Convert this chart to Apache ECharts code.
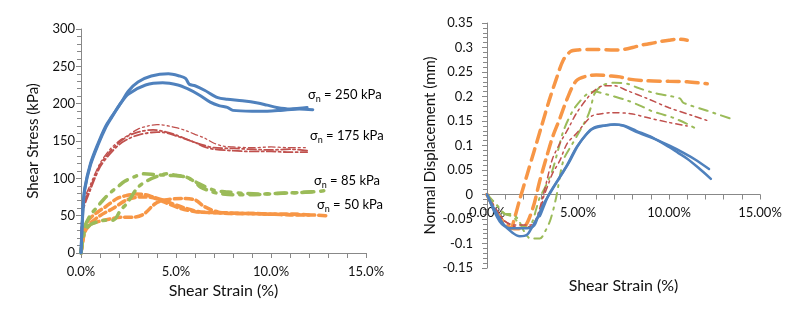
<!DOCTYPE html>
<html>
<head>
<meta charset="UTF-8">
<title>Shear stress and normal displacement</title>
<script src="https://cdn.jsdelivr.net/npm/echarts@6/dist/echarts.min.js"></script>
<style>
	body{margin:0;background:#fff;}
	#main{width:794px;height:321px;}
</style>
</head>
<body>
<div id="main"></div>
<script>
// left chart: shear stress (kPa) vs shear strain (%)
var s250a_x = [0,0.1,0.2,0.5,0.9,1.3,1.6,2.1,2.5,3.0,3.7,4.6,5.2,5.5,5.7,6.0,6.5,7.2,7.7,8.5,9.3,9.8,10.3,11.0,11.5,11.9];
var s250a_y = [0,60,87,120,147,170,182,201,217,229,237,240,237,234,226,224,218,208,206,204,201,198,195,193,194,195];
var s250b_x = [0,0.1,0.2,0.5,0.9,1.3,1.6,2.1,2.5,3.4,4.3,5.1,5.6,6.2,6.8,7.3,7.7,8.0,9.0,9.8,10.5,11.5,12.2];
var s250b_y = [0,55,85,118,145,168,181,201,213,225,228,225,220,212,202,197,195,191,190,190,191,193,192];
var s175a_x = [0,0.1,0.5,1,1.5,2,2.5,3,3.5,4,5,5.5,6,6.5,7,7.5,8,9,10,11,11.9];
var s175a_y = [0,65,92,120,138,150,158,166,170,172,168,164,159,154,147,143,142,141,142,141,141];
var s175b_x = [0,0.1,0.5,1,1.5,2,2.5,3,3.8,4.5,5,5.5,6,6.5,7,8,9,10,11,11.9];
var s175b_y = [0,60,88,118,135,148,157,162,165,162,158,153,148,144,141,140,139,138,139,137];
var s175c_x = [0,0.1,0.5,1,1.5,2,2.5,3,4,4.5,5,6,6.5,7,8,9,10,11,11.9];
var s175c_y = [0,55,85,115,132,145,153,158,162,161,157,148,142,139,137,136,136,135,135];
var s85a_x = [0,0.2,0.5,0.8,1.2,1.6,1.9,2.3,2.8,3.3,3.9,4.6,5.5,6.2,7.0,7.6,8.5,9.5,10.5,11.5,12.2];
var s85a_y = [0,35,51,60,72,82,88,96,102,106,105,104,102,93,84,82,80,79,80,81,82];
var s85b_x = [0,0.2,0.5,0.9,1.3,1.7,2.1,2.4,3.0,3.5,4.05,4.5,5,5.6,6.0,6.3,6.8,7.2,8,8.9,9.8,10.6,11.5,12.3,13];
var s85b_y = [0,30,38,42,44,44,58,66,88,97,103,106,104,101,95,88,83,80,78,78,79,80,81,82,84];
var s50a_x = [0,0.1,0.2,0.5,1,1.3,1.9,2.4,2.9,3.4,3.8,4.3,4.6,5.5,6.3,7.4,8.5,10,11,12,12.9];
var s50a_y = [0,20,35,47,57,62,73,77,79,78,75,71,68,60,55,54,53,52,51,51,50];
var s50b_x = [0,0.2,0.5,1,1.7,2.4,3.1,3.8,4.4,5.2,6.1,7,8,9,10,11,11.5];
var s50b_y = [0,30,40,50,60,71,75,74,68,60,55,54,53,53,52,52,52];
var s50c_x = [0,0.2,0.5,0.9,1.6,2.2,2.8,3.3,3.9,4.4,5.3,6,6.5,7.2,8,9,10,11,12];
var s50c_y = [0,28,38,42,46,48,48,52,66,71,73,71,62,55,53,53,52,52,51];

// right chart: normal displacement (mm) vs shear strain (%)
var d250a_x = [0,0.35,0.9,1.4,1.8,2.2,2.5,2.8,3.1,3.5,4,4.5,5,5.5,5.9,6.5,7.0,7.5,8.2,9.1,10,10.5,11,11.6,12.3];
var d250a_y = [0,-0.026,-0.06,-0.078,-0.085,-0.082,-0.065,-0.045,-0.02,0.005,0.035,0.065,0.1,0.125,0.137,0.141,0.143,0.141,0.13,0.116,0.097,0.085,0.073,0.055,0.032];
var d250b_x = [0,0.7,1.26,2.2,2.6,2.8,2.9,3.1,3.4,3.9,4.4,4.9,5.4,5.8,6.5,7,7.5,8.2,9.1,10,10.8,11.5,12.2];
var d250b_y = [0,-0.055,-0.069,-0.069,-0.063,-0.046,-0.044,-0.026,0,0.03,0.06,0.095,0.12,0.134,0.141,0.143,0.14,0.128,0.115,0.1,0.085,0.07,0.052];
var d175a_x = [0,0.5,1,1.5,2,2.5,2.8,3.1,3.3,3.6,4,4.5,4.9,5.5,5.9,6.4,7,7.7,8.8,10,11.3,12.1];
var d175a_y = [0,-0.035,-0.055,-0.065,-0.068,-0.062,-0.04,0,0.03,0.073,0.104,0.137,0.165,0.196,0.212,0.222,0.222,0.212,0.196,0.177,0.161,0.151];
var d175b_x = [0,0.5,1,1.5,2.4,2.7,2.9,3.1,3.3,3.6,4,4.4,4.9,5.5,5.8,6.3,6.8,7.9,8.8,10,11];
var d175b_y = [0,-0.03,-0.055,-0.062,-0.062,-0.053,-0.04,-0.006,0.014,0.043,0.069,0.104,0.124,0.151,0.161,0.165,0.167,0.165,0.157,0.147,0.14];
var d85a_x = [0,0.5,1,1.4,1.8,2.2,2.5,2.7,2.9,3.2,3.6,3.9,4.2,4.7,5.1,5.5,5.9,6.5,7,7.7,8.5,9,9.5,10.2,11,11.5];
var d85a_y = [0,-0.02,-0.04,-0.045,-0.06,-0.068,-0.055,-0.03,-0.006,0.015,0.05,0.09,0.13,0.17,0.19,0.205,0.21,0.205,0.2,0.192,0.18,0.171,0.165,0.157,0.144,0.134];
var d85b_x = [0,0.5,1,1.3,1.7,2,2.4,2.9,3.2,3.5,3.8,4.2,4.7,5.1,5.5,5.7,5.9,6.3,7,7.7,8.2,9.1,9.9,10.6,10.8,12.1,13.6];
var d85b_y = [0,-0.02,-0.04,-0.04,-0.05,-0.073,-0.09,-0.09,-0.075,-0.05,-0.006,0.07,0.104,0.13,0.157,0.177,0.205,0.222,0.228,0.226,0.219,0.208,0.202,0.196,0.187,0.171,0.152];
var d50a_x = [0,0.5,1,1.3,1.5,1.8,2.2,2.6,3.0,3.4,3.8,4.2,4.6,5,6,7,7.5,8,8.5,9,9.5,10,10.5,11];
var d50a_y = [0,-0.035,-0.06,-0.07,-0.05,-0.01,0.04,0.09,0.14,0.19,0.235,0.275,0.292,0.295,0.296,0.295,0.296,0.3,0.305,0.308,0.312,0.315,0.317,0.315];
var d50b_x = [0,0.5,1,1.5,2,2.5,2.9,3.3,3.6,4,4.4,4.9,5.5,6,6.8,7.3,7.7,8.8,10,11,12.1];
var d50b_y = [0,-0.035,-0.06,-0.07,-0.068,-0.03,0.028,0.08,0.117,0.155,0.195,0.232,0.242,0.244,0.242,0.24,0.236,0.232,0.231,0.23,0.226];

var BLUE = '#4F81BD', RED = '#C0504D', GREEN = '#9BBB59', ORANGE = '#F79646';
var FONT = 'Lato';

function pts(xs, ys){
	var out = [];
	for (var i=0; i<xs.length; i++){
		out.push([xs[i], ys[i]]);
	}
	return out;
}
function line(idx, xs, ys, color, width, dash){
	return {
		type:'line',
		xAxisIndex:idx,
		yAxisIndex:idx,
		data:pts(xs, ys),
		symbol:'none',
		smooth:0.3,
		silent:true,
		lineStyle:{color:color, width:width, type:dash || 'solid', cap:'round'}
	};
}
var axisGrey = '#888888';
function axisBase(){
	return {
		type:'value',
		axisLine:{show:true, onZero:false, lineStyle:{color:axisGrey, width:1}},
		axisTick:{show:true, length:5, lineStyle:{color:axisGrey}},
		minorTick:{show:true, splitNumber:5, length:4, lineStyle:{color:axisGrey}},
		splitLine:{show:false},
		nameTextStyle:{fontFamily:FONT, fontSize:16, color:'#111'},
		axisLabel:{fontFamily:FONT, fontSize:13, color:'#111', hideOverlap:false}
	};
}

var xL = axisBase();
xL.gridIndex = 0; xL.min = 0; xL.max = 15; xL.interval = 5;
xL.axisLabel.formatter = function(v){ return v.toFixed(1) + '%'; };
xL.axisLabel.margin = 12;
xL.minorTick.length = 5;
xL.name = 'Shear Strain (%)'; xL.nameLocation = 'middle'; xL.nameGap = 29;

var yL = axisBase();
yL.gridIndex = 0; yL.min = 0; yL.max = 300; yL.interval = 50;
yL.axisLabel.margin = 6;
yL.name = 'Shear Stress (kPa)'; yL.nameLocation = 'middle'; yL.nameGap = 40;
yL.nameTextStyle.fontSize = 15;

var rightH = 245, rightMin = -0.15, rightMax = 0.35;

// x axis of the right chart is drawn on the zero line (moved up from the bottom)
var xR = axisBase();
xR.gridIndex = 1; xR.min = 0; xR.max = 15; xR.interval = 5;
xR.position = 'bottom';
xR.offset = -rightH * (0 - rightMin) / (rightMax - rightMin);
xR.axisLabel.formatter = function(v){ return v.toFixed(2) + '%'; };
xR.axisLabel.margin = 12;
xR.minorTick.length = 5;
xR.name = 'Shear Strain (%)'; xR.nameLocation = 'middle'; xR.nameGap = 83;

var yR = axisBase();
yR.gridIndex = 1; yR.min = rightMin; yR.max = rightMax; yR.interval = 0.05;
yR.axisLabel.formatter = function(v){ return String(parseFloat(v.toFixed(2))); };
yR.axisLabel.margin = 14;
yR.name = 'Normal Displacement (mm)'; yR.nameLocation = 'middle'; yR.nameGap = 49;
yR.nameTextStyle.fontSize = 15;

var rich = {
	s:{fontFamily:FONT, fontSize:13, lineHeight:15, verticalAlign:'top', color:'#111'},
	n:{fontFamily:FONT, fontSize:9, lineHeight:9, padding:[7,0,0,0], verticalAlign:'top', color:'#111'},
	r:{fontFamily:FONT, fontSize:13, lineHeight:15, verticalAlign:'top', color:'#111'}
};
function note(x, y, txt){
	return {
		type:'text', left:x, top:y, silent:true,
		style:{text:'{s|σ}{n|n}{r| = ' + txt + '}', rich:rich}
	};
}

var chart = echarts.init(document.getElementById('main'), null, {renderer:'canvas'});
var option = {
	animation:false,
	backgroundColor:'#fff',
	grid:[
		{left:81, top:29, width:285, height:224, outerBoundsMode:'none', containLabel:false},
		{left:487, top:23, width:273, height:rightH, outerBoundsMode:'none', containLabel:false}
	],
	xAxis:[xL, xR],
	yAxis:[yL, yR],
	series:[
		line(0, s50a_x, s50a_y, ORANGE, 3.5, [7,4]),
		line(0, s50b_x, s50b_y, ORANGE, 3.5, [7,4]),
		line(0, s50c_x, s50c_y, ORANGE, 3.5, [7,4]),
		line(0, s85a_x, s85a_y, GREEN, 3.5, [10,7,3,7]),
		line(0, s85b_x, s85b_y, GREEN, 3.5, [10,7,3,7]),
		line(0, s175a_x, s175a_y, RED, 1.3, [7,3,2,3,2,3]),
		line(0, s175b_x, s175b_y, RED, 1.8, [9,3,2,3]),
		line(0, s175c_x, s175c_y, RED, 1.8, [9,3,2,3]),
		line(0, s250a_x, s250a_y, BLUE, 3),
		line(0, s250b_x, s250b_y, BLUE, 3),
		line(1, d50a_x, d50a_y, ORANGE, 3.5, [12,7]),
		line(1, d50b_x, d50b_y, ORANGE, 3.5, [12,7]),
		line(1, d85a_x, d85a_y, GREEN, 2, [9,6,2,6]),
		line(1, d85b_x, d85b_y, GREEN, 2, [9,6,2,6]),
		line(1, d175a_x, d175a_y, RED, 1.5, [6,4,2,4]),
		line(1, d175b_x, d175b_y, RED, 1.5, [6,4,2,4]),
		line(1, d250a_x, d250a_y, BLUE, 2.5),
		line(1, d250b_x, d250b_y, BLUE, 2.5)
	],
	graphic:[
		note(308, 88, '250 kPa'),
		note(310, 129, '175 kPa'),
		note(314, 174, '85 kPa'),
		note(317, 198, '50 kPa')
	]
};
chart.setOption(option);
</script>
</body>
</html>
